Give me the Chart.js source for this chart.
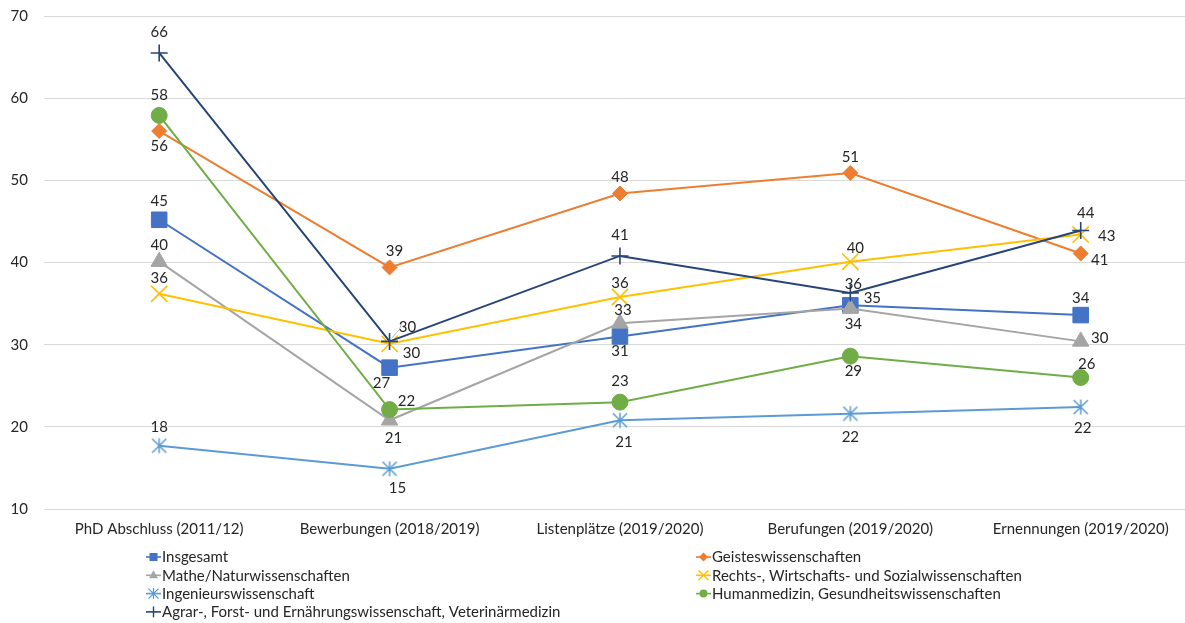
<!DOCTYPE html>
<html lang="de">
<head>
<meta charset="utf-8">
<title>Anteile nach Fächergruppen</title>
<script src="https://cdn.jsdelivr.net/npm/chart.js@4.4.1/dist/chart.umd.min.js"></script>
<style>
  html, body { margin: 0; padding: 0; background: #ffffff; overflow: hidden; }
  #wrap { position: relative; width: 1209px; height: 623px; }
</style>
</head>
<body>
<div id="wrap"><canvas id="chart"></canvas></div>
<script>
// ---- data ----
const categories = [
  'PhD Abschluss (2011/12)',
  'Bewerbungen (2018/2019)',
  'Listenplätze (2019/2020)',
  'Berufungen (2019/2020)',
  'Ernennungen (2019/2020)'
];

const insgesamt      = [45.2, 27.2, 31.0, 34.8, 33.6];
const geistes        = [56.0, 39.4, 48.4, 50.9, 41.1];
const matheNatur     = [40.1, 20.8, 32.6, 34.4, 30.4];
const rechtsWiSo     = [36.2, 30.1, 35.8, 40.1, 43.4];
const ingenieur      = [17.7, 14.9, 20.8, 21.6, 22.4];
const humanmedizin   = [57.9, 22.1, 23.0, 28.6, 26.0];
const agrarVet       = [65.5, 30.4, 40.8, 36.3, 43.9];

const seriesNames = [
  'Insgesamt',
  'Geisteswissenschaften',
  'Mathe/Naturwissenschaften',
  'Rechts-, Wirtschafts- und Sozialwissenschaften',
  'Ingenieurswissenschaft',
  'Humanmedizin, Gesundheitswissenschaften',
  'Agrar-, Forst- und Ernährungswissenschaft, Veterinärmedizin'
];

const yMin = 10, yMax = 70, yStep = 10;

// ---- styling ----
const FONT = 'Lato, "Open Sans", sans-serif';
const TEXT = '#262626';
const colors = ['#4472C4', '#ED7D31', '#A5A5A5', '#FFC000', '#5B9BD5', '#70AD47', '#264478'];

// asterisk marker (vertical stroke plus a diagonal cross)
function makeAsterisk(color, half, lw) {
  const s = Math.ceil(half * 2 + lw * 2 + 2);
  const c = document.createElement('canvas');
  c.width = s; c.height = s;
  const g = c.getContext('2d');
  const m = s / 2;
  const d = half * 0.94;
  g.strokeStyle = color; g.lineWidth = lw; g.lineCap = 'butt';
  g.beginPath();
  g.moveTo(m, m - half); g.lineTo(m, m + half);
  g.moveTo(m - d, m - d); g.lineTo(m + d, m + d);
  g.moveTo(m + d, m - d); g.lineTo(m - d, m + d);
  g.stroke();
  return c;
}

const markers = [
  { style: 'rect',      radius: 11,  border: 1 },
  { style: 'rectRot',   radius: 7.5, border: 1 },
  { style: 'triangle',  radius: 9.5, border: 1 },
  { style: 'crossRot',  radius: 11.5, border: 1.6 },
  { style: makeAsterisk(colors[4], 7.5, 1.5), radius: 8, border: 1.5 },
  { style: 'circle',    radius: 8,   border: 1 },
  { style: 'cross',     radius: 8.5, border: 1.6 }
];

// label offsets (dx, dy) from each point, per series
const labelOffsets = [
  [[0, -19], [-8, 15], [0, 15], [22, -7], [0, -17]],
  [[0, 15], [5, -16], [0, -16], [0, -16], [19, 7]],
  [[0, -17], [4, 18], [3, -13], [3, 16], [19, -3]],
  [[0, -16], [22, 9], [0, -14], [5, -14], [26, 2]],
  [[0, -19], [8, 19], [4, 22], [0, 23], [2, 21]],
  [[0, -20], [17, -8], [0, -21], [3, 15], [6, -13]],
  [[0, -21], [18, -14], [0, -21], [3, -9], [5, -17]]
];
// a thin leader line links this label to its point
const leaderLines = [{ series: 6, index: 1 }];

const seriesValues = [insgesamt, geistes, matheNatur, rechtsWiSo, ingenieur, humanmedizin, agrarVet];

const datasets = seriesValues.map((vals, i) => ({
  label: seriesNames[i],
  data: vals,
  borderColor: colors[i],
  backgroundColor: colors[i],
  borderWidth: 2,
  pointStyle: markers[i].style,
  pointRadius: markers[i].radius,
  pointHoverRadius: markers[i].radius,
  pointBorderWidth: markers[i].border,
  pointBorderColor: colors[i],
  pointBackgroundColor: colors[i],
  tension: 0,
  fill: false,
  order: seriesValues.length - i
}));

// value labels next to every point
const valueLabels = {
  id: 'valueLabels',
  afterDatasetsDraw(chart) {
    const ctx = chart.ctx;
    ctx.save();
    ctx.font = '15px ' + FONT;
    ctx.fillStyle = TEXT;
    ctx.textAlign = 'center';
    ctx.textBaseline = 'middle';
    chart.data.datasets.forEach((ds, si) => {
      const meta = chart.getDatasetMeta(si);
      meta.data.forEach((pt, pi) => {
        const off = labelOffsets[si][pi];
        const lx = pt.x + off[0], ly = pt.y + off[1];
        if (leaderLines.some(l => l.series === si && l.index === pi)) {
          ctx.save();
          ctx.strokeStyle = '#A6A6A6';
          ctx.lineWidth = 0.8;
          ctx.beginPath();
          ctx.moveTo(pt.x + 2, pt.y - 3);
          ctx.lineTo(lx - 8, ly + 2);
          ctx.lineTo(lx - 6, ly - 4);
          ctx.stroke();
          ctx.restore();
        }
        ctx.fillText(String(Math.round(ds.data[pi])), lx, ly);
      });
    });
    ctx.restore();
  }
};

// two-column legend below the plot
function drawLegendMarker(ctx, i, x, y) {
  const c = colors[i];
  ctx.save();
  ctx.fillStyle = c; ctx.strokeStyle = c;
  ctx.beginPath();
  switch (i) {
    case 0: ctx.fillRect(x - 4, y - 4, 8, 8); break;
    case 1: ctx.moveTo(x - 4.5, y); ctx.lineTo(x, y - 4.5); ctx.lineTo(x + 4.5, y); ctx.lineTo(x, y + 4.5); ctx.closePath(); ctx.fill(); break;
    case 2: ctx.moveTo(x, y - 5); ctx.lineTo(x + 4.5, y + 3); ctx.lineTo(x - 4.5, y + 3); ctx.closePath(); ctx.fill(); break;
    case 3: ctx.lineWidth = 1.4; ctx.moveTo(x - 5, y - 5); ctx.lineTo(x + 5, y + 5); ctx.moveTo(x + 5, y - 5); ctx.lineTo(x - 5, y + 5); ctx.stroke(); break;
    case 4: ctx.lineWidth = 1.3; ctx.moveTo(x, y - 5.5); ctx.lineTo(x, y + 5.5); ctx.moveTo(x - 5, y - 5); ctx.lineTo(x + 5, y + 5); ctx.moveTo(x + 5, y - 5); ctx.lineTo(x - 5, y + 5); ctx.stroke(); break;
    case 5: ctx.arc(x, y, 4, 0, Math.PI * 2); ctx.fill(); break;
    case 6: ctx.lineWidth = 1.4; ctx.moveTo(x, y - 5.5); ctx.lineTo(x, y + 5.5); ctx.stroke(); break;
  }
  ctx.restore();
}

const gridLegend = {
  id: 'gridLegend',
  afterDraw(chart) {
    const ctx = chart.ctx;
    const colX = [146, 696];
    const rowY0 = 557, rowGap = 18.3;
    ctx.save();
    ctx.font = '15px ' + FONT;
    ctx.textBaseline = 'middle';
    ctx.textAlign = 'left';
    chart.data.datasets.forEach((ds, i) => {
      const x = colX[i % 2];
      const y = rowY0 + Math.floor(i / 2) * rowGap;
      ctx.strokeStyle = colors[i];
      ctx.lineWidth = 1.6;
      ctx.beginPath();
      ctx.moveTo(x, y); ctx.lineTo(x + 15, y);
      ctx.stroke();
      drawLegendMarker(ctx, i, x + 7.5, y);
      ctx.fillStyle = TEXT;
      ctx.fillText(ds.label, x + 16, y + 0.5);
    });
    ctx.restore();
  }
};

new Chart(document.getElementById('chart'), {
  type: 'line',
  data: { labels: categories, datasets },
  options: {
    responsive: true,
    maintainAspectRatio: false,
    devicePixelRatio: 1,
    animation: false,
    layout: { padding: { top: 16, right: 5, bottom: 78, left: 0 } },
    plugins: {
      legend: { display: false },
      tooltip: { enabled: false },
      title: { display: false }
    },
    scales: {
      x: {
        offset: true,
        grid: { display: false, drawTicks: false },
        border: { display: false },
        ticks: { color: TEXT, font: { family: FONT, size: 15 }, padding: 11, maxRotation: 0, autoSkip: false },
        afterFit(scale) { scale.height = 36; }
      },
      y: {
        min: yMin, max: yMax,
        grid: { color: '#D9D9D9', lineWidth: 1, drawTicks: false },
        border: { display: false },
        ticks: { stepSize: yStep, color: TEXT, font: { family: FONT, size: 15 }, padding: 16 },
        afterFit(scale) {
          scale.width = 44;
          // the tick gap is horizontal only; keep it out of the vertical overflow
          scale.paddingTop = 8;
          scale.paddingBottom = 8;
        }
      }
    }
  },
  plugins: [valueLabels, gridLegend]
});
</script>
</body>
</html>
